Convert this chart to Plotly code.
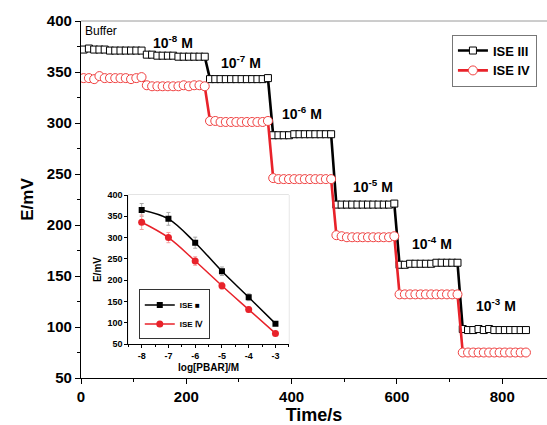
import plotly.graph_objects as go

# ---- main time-trace data (Time/s vs E/mV) ----
time_s = [5 + 10 * k for k in range(85)]

ise3_mv = (
    [372, 373, 372, 372, 372, 371, 371, 371, 371, 371, 371, 371] +      # buffer
    [367, 367, 366, 366, 366, 366, 365, 365, 365, 365, 365, 365] +      # 1e-8
    [343, 343, 343, 343, 343, 343, 343, 343, 343, 343, 343, 344] +      # 1e-7
    [288, 288, 288, 288, 289, 289, 289, 289, 289, 289, 289, 289] +      # 1e-6
    [220, 220, 220, 220, 220, 220, 220, 220, 220, 220, 220, 221] +      # 1e-5
    [161, 161, 162, 162, 162, 162, 162, 163, 163, 163, 163, 163] +      # 1e-4
    [98, 97, 97, 98, 97, 98, 97, 97, 97, 97, 97, 97, 97]                # 1e-3
)
ise4_mv = (
    [344, 344, 343, 346, 344, 344, 344, 344, 344, 343, 344, 345] +
    [337, 336, 336, 336, 336, 336, 336, 337, 336, 337, 337, 336] +
    [302, 302, 301, 301, 301, 301, 301, 301, 301, 301, 301, 302] +
    [246, 245, 245, 245, 245, 245, 245, 245, 245, 245, 245, 245] +
    [190, 189, 188, 188, 188, 188, 188, 188, 188, 188, 188, 189] +
    [132, 132, 132, 132, 132, 132, 132, 132, 132, 132, 132, 132] +
    [75, 75, 75, 75, 75, 75, 75, 75, 75, 75, 75, 75, 75]
)

# concentration step labels
step_labels = ["Buffer", "10<sup>-8</sup> M", "10<sup>-7</sup> M", "10<sup>-6</sup> M",
               "10<sup>-5</sup> M", "10<sup>-4</sup> M", "10<sup>-3</sup> M"]
label_t = [3, 133, 262, 378, 512, 625, 747]
label_v = [390, 379, 360, 310, 238, 182, 122]

# ---- inset calibration data ----
log_c = [-8, -7, -6, -5, -4, -3]
cal3 = [365, 344, 288, 221, 160, 98]
cal3_err = [15, 15, 13, 10, 8, 3]
cal4 = [336, 300, 245, 187, 131, 75]
cal4_err = [17, 12, 10, 8, 6, 3]

RED = "#e8222a"
FONT = "Liberation Sans"

fig = go.Figure()

fig.add_trace(go.Scatter(
    x=time_s, y=ise3_mv, name="ISE III", mode="lines+markers",
    line=dict(color="black", width=2.6),
    marker=dict(symbol="square", size=7, color="white", line=dict(color="black", width=1)),
    legend="legend", xaxis="x", yaxis="y"))
fig.add_trace(go.Scatter(
    x=time_s, y=ise4_mv, name="ISE IV", mode="lines+markers",
    line=dict(color=RED, width=2.6),
    marker=dict(symbol="circle", size=9, color="white", line=dict(color="#f04040", width=1)),
    legend="legend", xaxis="x", yaxis="y"))

fig.add_trace(go.Scatter(
    x=log_c, y=cal3, name="ISE \u25A0", mode="lines+markers",
    line=dict(color="black", width=1.5, shape="spline"),
    marker=dict(symbol="square", size=6, color="black"),
    error_y=dict(type="data", array=cal3_err, color="#aaaaaa", thickness=1, width=2),
    legend="legend2", xaxis="x2", yaxis="y2"))
fig.add_trace(go.Scatter(
    x=log_c, y=cal4, name="ISE \u2163", mode="lines+markers",
    line=dict(color=RED, width=1.5, shape="spline"),
    marker=dict(symbol="circle", size=7, color=RED),
    error_y=dict(type="data", array=cal4_err, color="#f4a0a0", thickness=1, width=2),
    legend="legend2", xaxis="x2", yaxis="y2"))

for txt, t, v in zip(step_labels, label_t, label_v):
    bold = txt != "Buffer"
    fig.add_annotation(x=t, y=v, xref="x", yref="y", text=txt, showarrow=False,
                       xanchor="left", yanchor="middle",
                       font=dict(family=FONT, size=14 if bold else 12, color="black",
                                 weight="bold" if bold else "normal"))

# top border of main plot (grey)
fig.add_shape(type="line", xref="paper", yref="paper", x0=0, x1=1, y0=1, y1=1,
              line=dict(color="#9a9a9a", width=1))
# inset frame
fig.add_shape(type="rect", xref="x2 domain", yref="y2 domain", x0=0, x1=1, y0=0, y1=1,
              line=dict(color="#c8c8c8", width=1), layer="below")

tickfont_main = dict(family=FONT, size=15, color="black", weight="bold")
tickfont_in = dict(family=FONT, size=9, color="black", weight="bold")

fig.update_layout(
    width=547, height=425,
    margin=dict(l=81, r=0, t=21, b=47),
    plot_bgcolor="white", paper_bgcolor="white",
    xaxis=dict(range=[0, 885], tickvals=[0, 200, 400, 600, 800], ticks="outside",
               ticklen=5, tickwidth=1.2, tickcolor="black",
               minor=dict(dtick=100, ticks="outside", ticklen=3, tickcolor="black"),
               showline=True, linecolor="black", linewidth=1.3, showgrid=False,
               zeroline=False, tickfont=tickfont_main,
               title=dict(text="Time/s", standoff=2,
                          font=dict(family=FONT, size=18, color="black", weight="bold"))),
    yaxis=dict(range=[50, 400], tickvals=[50, 100, 150, 200, 250, 300, 350, 400],
               ticks="outside", ticklen=5, tickwidth=1.2, tickcolor="black",
               minor=dict(dtick=25, ticks="outside", ticklen=3, tickcolor="black"),
               showline=True, linecolor="black", linewidth=1.3, showgrid=False,
               zeroline=False, tickfont=tickfont_main,
               title=dict(text="E/mV", standoff=8,
                          font=dict(family=FONT, size=17, color="black", weight="bold"))),
    xaxis2=dict(domain=[0.1015, 0.446], anchor="y2", range=[-8.5, -2.5],
                tickvals=log_c, ticktext=[str(v) for v in log_c], ticks="outside",
                ticklen=3, tickcolor="black",
                minor=dict(dtick=0.5, ticks="outside", ticklen=2, tickcolor="black"),
                showline=True, linecolor="black", linewidth=1, showgrid=False,
                zeroline=False, tickfont=tickfont_in,
                title=dict(text="log[PBAR]/M", standoff=4,
                           font=dict(family=FONT, size=10, color="black", weight="bold"))),
    yaxis2=dict(domain=[0.095, 0.5126], anchor="x2", range=[50, 400],
                tickvals=[50, 100, 150, 200, 250, 300, 350, 400], ticks="outside",
                ticklen=3, tickcolor="black",
                showline=True, linecolor="black", linewidth=1, showgrid=False,
                zeroline=False, tickfont=tickfont_in,
                title=dict(text="E/mV", standoff=3,
                           font=dict(family=FONT, size=10, color="black", weight="bold"))),
    legend=dict(x=0.796, y=0.962, xanchor="left", yanchor="top",
                bgcolor="white", bordercolor="#777777", borderwidth=1,
                font=dict(family=FONT, size=13, color="black", weight="bold"),
                tracegroupgap=0, itemwidth=30),
    legend2=dict(x=0.124, y=0.108, xanchor="left", yanchor="bottom",
                 bgcolor="rgba(255,255,255,0.9)", bordercolor="#333333", borderwidth=1,
                 font=dict(family=FONT, size=8, color="black", weight="bold"),
                 tracegroupgap=0, itemwidth=30),
    showlegend=True,
)

fig.write_html("out.html")
